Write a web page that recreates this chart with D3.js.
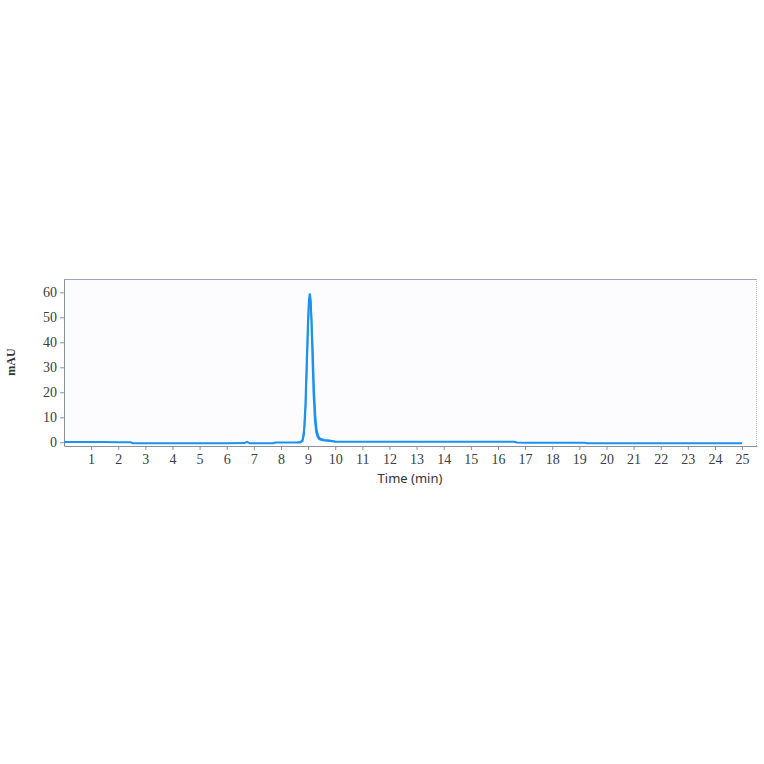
<!DOCTYPE html>
<html>
<head>
<meta charset="utf-8">
<script src="https://cdn.jsdelivr.net/npm/d3@7"></script>
<style>
  body { margin: 0; background: #fff; }
  svg { display: block; }
</style>
</head>
<body>
<svg id="chart" width="764" height="764"></svg>
<script>
// chromatogram trace (time in min, signal in mAU)
var times = [0, 0.5, 1, 1.5, 2, 2.45, 2.55, 3, 4, 5, 6, 6.65, 6.75, 6.85, 7, 7.7, 7.8, 8.5, 8.7,
             8.75, 8.8, 8.85, 8.9, 8.95, 9.0, 9.03, 9.06, 9.08, 9.1, 9.13, 9.16, 9.2, 9.25, 9.3,
             9.35, 9.4, 9.5, 9.6, 9.7, 9.8, 9.9, 10.0, 10.2, 11, 12, 13, 14, 15, 16, 16.6, 16.7,
             17, 18, 19, 19.2, 19.3, 20, 21, 22, 23, 24, 25];
var signal = [0.1, 0.1, 0.1, 0.1, 0.0, 0.0, -0.4, -0.4, -0.4, -0.4, -0.4, -0.3, 0.2, -0.4, -0.4, -0.4, -0.1, -0.1, -0.1,
              0.2, 1.2, 5, 15, 33, 50, 57, 59.5, 58.5, 55, 45, 34, 20, 9, 4,
              2.2, 1.3, 0.9, 0.7, 0.6, 0.5, 0.4, 0.2, 0.2, 0.2, 0.2, 0.2, 0.2, 0.2, 0.2, 0.2, -0.1,
              -0.2, -0.2, -0.2, -0.2, -0.4, -0.4, -0.4, -0.4, -0.4, -0.4, -0.4];

// second, slightly offset trace that makes the peak look doubled
var times2 = [8.6, 8.8, 8.85, 8.9, 8.95, 9.0, 9.04, 9.07, 9.1, 9.14, 9.18, 9.22, 9.27, 9.32, 9.38, 9.45, 9.6, 9.8, 10.0];
var signal2 = [-0.1, 0.5, 3, 11, 27, 45, 56, 58.5, 56, 47, 36, 22, 11, 5, 2.5, 1.5, 1.0, 0.8, 0.3];

var xTicks = d3.range(1, 26);
var yTicks = [0, 10, 20, 30, 40, 50, 60];

var svg = d3.select("#chart");
var plotLeft = 64, plotRight = 757, plotTop = 279, plotBottom = 446;

var x = d3.scaleLinear().domain([0, 25.55]).range([plotLeft, plotRight]);
var y = d3.scaleLinear().domain([-1.48, 65.32]).range([plotBottom, plotTop]);

// plot background
svg.append("rect")
  .attr("x", plotLeft).attr("y", plotTop)
  .attr("width", plotRight - plotLeft).attr("height", plotBottom - plotTop)
  .style("fill", "#fcfcfe");

// top and right frame
svg.append("line")
  .attr("x1", plotLeft).attr("x2", plotRight).attr("y1", plotTop + 0.5).attr("y2", plotTop + 0.5)
  .style("stroke", "#a2a6b4").style("stroke-width", 1);
svg.append("line")
  .attr("x1", plotRight - 0.5).attr("x2", plotRight - 0.5).attr("y1", plotTop).attr("y2", plotBottom)
  .style("stroke", "#b4b8c6").style("stroke-width", 1).style("stroke-dasharray", "1,1");

var xAxis = svg.append("g")
  .attr("transform", "translate(0," + plotBottom + ")")
  .call(d3.axisBottom(x).tickValues(xTicks).tickSize(4).tickPadding(4).tickSizeOuter(0));
var yAxis = svg.append("g")
  .attr("transform", "translate(" + plotLeft + ",0)")
  .call(d3.axisLeft(y).tickValues(yTicks).tickSize(4).tickPadding(3).tickSizeOuter(0));

[xAxis, yAxis].forEach(function(g) {
  g.select(".domain").style("stroke", "#8c909c");
  g.selectAll(".tick line").style("stroke", "#8c909c");
  g.selectAll(".tick text")
    .style("font-family", "'Liberation Serif', 'DejaVu Serif', serif")
    .style("font-size", "14px")
    .style("fill", "#3a3d45");
});

var line = d3.line()
  .x(function(d) { return x(d[0]); })
  .y(function(d) { return y(d[1]); });

svg.append("path")
  .datum(d3.zip(times2, signal2))
  .attr("d", line)
  .style("fill", "none")
  .style("stroke", "#1f95ef")
  .style("stroke-width", 1.6);

svg.append("path")
  .datum(d3.zip(times, signal))
  .attr("d", line)
  .style("fill", "none")
  .style("stroke", "#1c92f0")
  .style("stroke-width", 2);

// axis titles
svg.append("text")
  .attr("x", 410).attr("y", 483)
  .attr("text-anchor", "middle")
  .style("font-family", "'Noto Sans', 'Open Sans', sans-serif")
  .style("font-size", "13px")
  .style("fill", "#333")
  .text("Time (min)");

svg.append("text")
  .attr("transform", "translate(15,362) rotate(-90)")
  .attr("text-anchor", "middle")
  .style("font-family", "'Liberation Serif', 'DejaVu Serif', serif")
  .style("font-size", "12px")
  .style("font-weight", "bold")
  .style("fill", "#333")
  .text("mAU");
</script>
</body>
</html>
